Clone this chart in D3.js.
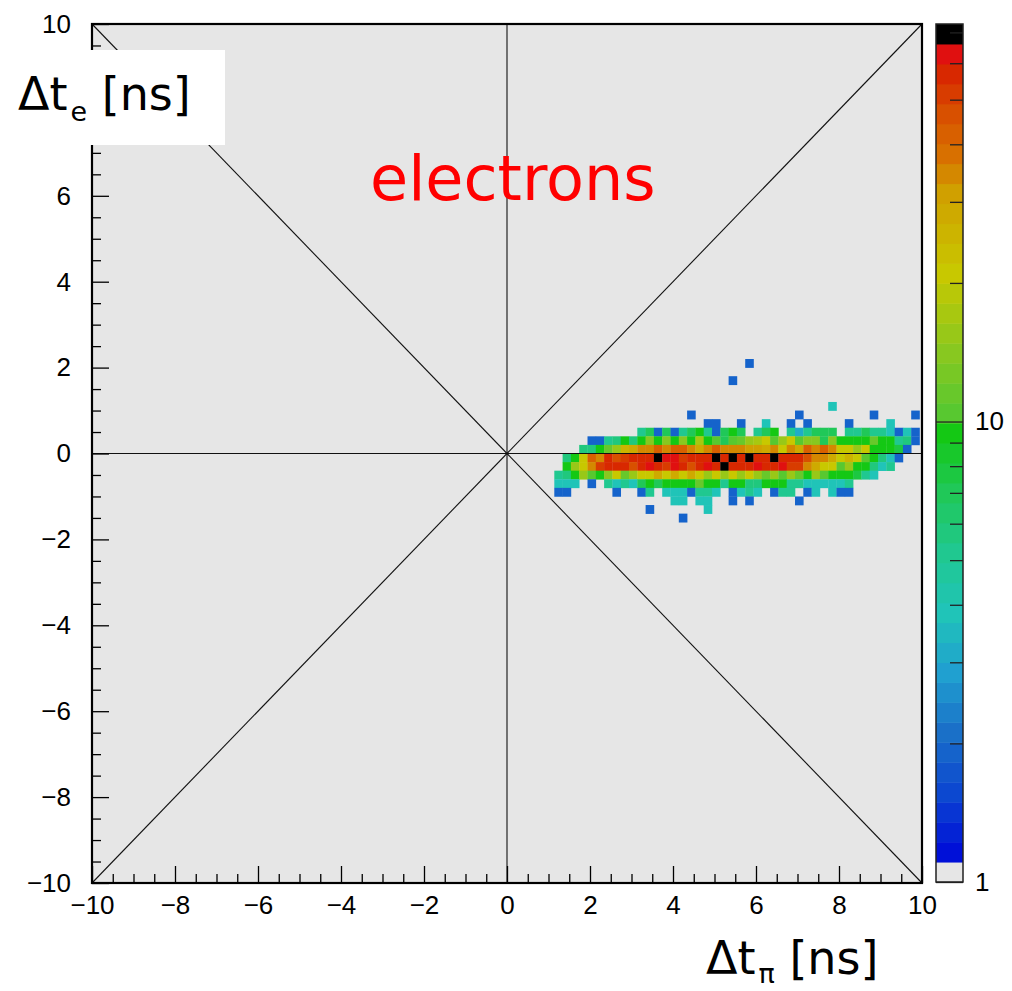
<!DOCTYPE html>
<html lang="en">
<head>
<meta charset="UTF-8">
<title>electrons</title>
<script src="https://d3js.org/d3.v7.min.js"></script>
<style>
  body { margin: 0; background: white; }
  svg { display: block; }
  .tick text { font-family: "Liberation Sans", Arial, sans-serif; font-size: 26px; fill: black; }
  .label { font-family: "DejaVu Sans", sans-serif; fill: black; }
</style>
</head>
<body>
<script>
  const W = 1012, H = 991;

  // 2D histogram, 0.2 x 0.2 bins. rowY = lower edge of each row,
  // each row has 44 columns starting at x = colStart
  const binW = 0.2;
  const colStart = 1.14;
  const rowY = [2.0, 1.6, 1.0, 0.8, 0.6, 0.4, 0.2, 0.0, -0.2, -0.4, -0.6, -0.8, -1.0, -1.2, -1.4, -1.6];
  const rowCounts = [
    [0,0,0,0,0,0,0,0,0,0, 0,0,0,0,0,0,0,0,0,0, 0,0,0,2,0,0,0,0,0,0, 0,0,0,0,0,0,0,0,0,0, 0,0,0,0],
    [0,0,0,0,0,0,0,0,0,0, 0,0,0,0,0,0,0,0,0,0, 0,2,0,0,0,0,0,0,0,0, 0,0,0,0,0,0,0,0,0,0, 0,0,0,0],
    [0,0,0,0,0,0,0,0,0,0, 0,0,0,0,0,0,0,0,0,0, 0,0,0,0,0,0,0,0,0,0, 0,0,0,4,0,0,0,0,0,0, 0,0,0,0],
    [0,0,0,0,0,0,0,0,0,0, 0,0,0,0,0,0,2,0,0,0, 0,0,0,0,0,0,0,0,0,2, 0,0,0,0,0,0,0,0,2,0, 0,0,0,2],
    [0,0,0,0,0,0,0,0,0,0, 0,0,0,0,0,0,0,0,2,2, 0,0,2,0,0,4,0,0,2,0, 2,0,0,0,0,2,0,0,0,0, 4,0,0,0],
    [0,0,0,0,0,0,0,0,0,0, 5,7,2,7,2,5,7,9,5,2, 7,9,7,0,5,7,9,0,5,3, 5,7,7,7,0,5,5,7,5,5, 4,2,4,2],
    [0,0,0,0,2,2,5,6,9,6, 9,14,9,14,9,14,9,18,9,10, 7,10,12,15,18,20,10,15,20,10, 14,14,7,14,9,9,9,9,12,9, 9,5,6,2],
    [0,0,0,6,6,9,12,15,25,27, 35,35,42,35,42,42,35,27,35,42, 35,35,35,30,30,27,35,22,35,27, 42,35,42,35,22,20,15,20,9,9, 9,8,2,0],
    [0,6,9,20,42,35,58,45,50,58, 58,58,70,62,62,50,58,58,58,70, 58,70,58,70,58,58,70,58,58,58, 45,35,35,27,20,25,20,10,9,6, 4,2,0,0],
    [0,9,15,22,35,50,55,58,55,45, 55,62,58,50,62,58,45,58,62,58, 70,58,58,55,62,58,58,62,50,50, 35,27,20,20,10,15,9,9,6,4, 5,0,0,0],
    [5,6,9,15,10,9,14,20,12,15, 20,20,27,20,27,20,27,20,15,20, 15,20,15,20,15,12,15,10,15,12, 9,15,10,9,9,9,8,5,4,0, 0,0,0,0],
    [4,4,4,0,2,0,5,4,5,4, 7,9,7,9,9,9,9,12,9,9, 5,9,9,6,6,9,9,9,5,5, 4,4,4,4,4,5,0,0,0,0, 0,0,0,0],
    [2,2,0,0,0,0,0,2,0,0, 2,5,0,4,4,4,2,5,5,4, 0,2,4,5,4,0,2,5,5,0, 2,4,0,4,2,2,0,0,0,0, 0,0,0,0],
    [0,0,0,0,0,0,0,0,0,0, 0,0,0,0,4,4,0,4,4,0, 0,2,0,2,0,0,0,0,0,2, 0,0,0,0,0,0,0,0,0,0, 0,0,0,0],
    [0,0,0,0,0,0,0,0,0,0, 0,2,0,0,0,0,0,0,4,0, 0,0,0,0,0,0,0,0,0,0, 0,0,0,0,0,0,0,0,0,0, 0,0,0,0],
    [0,0,0,0,0,0,0,0,0,0, 0,0,0,0,0,2,0,0,0,0, 0,0,0,0,0,0,0,0,0,0, 0,0,0,0,0,0,0,0,0,0, 0,0,0,0]
  ];

  const xTickValues = [-10, -8, -6, -4, -2, 0, 2, 4, 6, 8, 10];
  const yTickValues = [-10, -8, -6, -4, -2, 0, 2, 4, 6, 8, 10];
  const zTickValues = [1, 10];
  const zMinorValues = [2, 3, 4, 5, 6, 7, 8, 9, 20, 30, 40, 50, 60, 70];
  const zMax = 73;
  const nBands = 43;

  // colour palette: band index -> colour
  const paletteBands = [1, 4, 7, 10, 13, 16, 19, 22, 23, 26, 30, 34, 36, 38, 40, 41, 42];
  const paletteColors = ["#0010d8", "#0c48d0", "#1a70c8", "#20a0d0", "#20c4b8", "#20c890", "#20c858",
    "#14c814", "#58c830", "#88c820", "#c8c800", "#d0a000", "#d87000", "#d85000", "#d82800", "#e01010", "#000000"];
  const palette = d3.scaleLinear().domain(paletteBands).range(paletteColors).interpolate(d3.interpolateRgb);
  const bandColor = b => b <= 0 ? "#e6e6e6" : palette(Math.min(b, nBands - 1));
  const logMax = Math.log10(zMax);
  const bandOf = v => Math.min(nBands - 1, Math.floor(Math.log10(v) / logMax * nBands));

  const svg = d3.select("body").append("svg")
    .attr("width", W)
    .attr("height", H);

  const x = d3.scaleLinear().domain([-10, 10]).range([92, 922]);
  const y = d3.scaleLinear().domain([-10, 10]).range([883, 24]);

  svg.append("rect")
    .attr("x", x(-10)).attr("y", y(10))
    .attr("width", x(10) - x(-10)).attr("height", y(-10) - y(10))
    .attr("fill", "#e6e6e6");

  // histogram cells
  const cells = [];
  rowCounts.forEach((row, i) => {
    row.forEach((v, j) => {
      if (v > 0) cells.push({ x0: colStart + j * binW, y0: rowY[i], v: v });
    });
  });

  svg.append("g").selectAll("rect")
    .data(cells)
    .enter().append("rect")
    .attr("x", d => x(d.x0))
    .attr("y", d => y(d.y0 + binW))
    .attr("width", d => x(d.x0 + binW) - x(d.x0) + 0.3)
    .attr("height", d => y(d.y0) - y(d.y0 + binW) + 0.3)
    .attr("fill", d => bandColor(bandOf(d.v)));

  // guide lines
  const guides = [
    [[-10, -10], [10, 10]],
    [[-10, 10], [10, -10]],
    [[0, -10], [0, 10]],
    [[-10, 0], [10, 0]]
  ];
  svg.append("g").selectAll("line")
    .data(guides)
    .enter().append("line")
    .attr("x1", d => x(d[0][0])).attr("y1", d => y(d[0][1]))
    .attr("x2", d => x(d[1][0])).attr("y2", d => y(d[1][1]))
    .attr("stroke", "#111")
    .attr("stroke-width", 1.1);

  // axes, ticks pointing inside the frame
  const minor = d3.range(-10, 10.01, 0.5).filter(v => Math.abs(v % 2) > 0.01);

  svg.append("g")
    .attr("transform", `translate(0,${y(-10)})`)
    .call(d3.axisBottom(x).tickValues(xTickValues).tickSize(-17).tickPadding(13))
    .call(g => g.select(".domain").remove());
  svg.append("g")
    .attr("transform", `translate(0,${y(-10)})`)
    .call(d3.axisBottom(x).tickValues(minor).tickSize(-9).tickFormat(""))
    .call(g => g.select(".domain").remove());

  svg.append("g")
    .attr("transform", `translate(${x(-10)},0)`)
    .call(d3.axisLeft(y).tickValues(yTickValues).tickSize(-17).tickPadding(21))
    .call(g => g.select(".domain").remove());
  svg.append("g")
    .attr("transform", `translate(${x(-10)},0)`)
    .call(d3.axisLeft(y).tickValues(minor).tickSize(-9).tickFormat(""))
    .call(g => g.select(".domain").remove());

  svg.selectAll(".tick line").attr("stroke", "#000").attr("stroke-width", 1.3);

  svg.append("rect")
    .attr("x", x(-10)).attr("y", y(10))
    .attr("width", x(10) - x(-10)).attr("height", y(-10) - y(10))
    .attr("fill", "none")
    .attr("stroke", "#000")
    .attr("stroke-width", 2.2);

  // colour bar
  const cbX = 936, cbW = 27;
  const z = d3.scaleLog().domain([1, zMax]).range([882, 24]);
  const bands = d3.range(nBands);
  svg.append("g").selectAll("rect")
    .data(bands)
    .enter().append("rect")
    .attr("x", cbX)
    .attr("y", b => z(Math.pow(10, (b + 1) * logMax / nBands)))
    .attr("width", cbW)
    .attr("height", b => z(Math.pow(10, b * logMax / nBands)) - z(Math.pow(10, (b + 1) * logMax / nBands)) + 0.5)
    .attr("fill", b => bandColor(b));

  svg.append("g")
    .attr("transform", `translate(${cbX + cbW},0)`)
    .call(d3.axisRight(z).tickValues(zTickValues).tickSize(-cbW).tickPadding(12).tickFormat(d3.format("d")))
    .call(g => g.select(".domain").remove())
    .call(g => g.selectAll("line").attr("stroke", "#222").attr("stroke-width", 1.3));
  svg.append("g")
    .attr("transform", `translate(${cbX + cbW},0)`)
    .call(d3.axisRight(z).tickValues(zMinorValues).tickSize(-13).tickFormat(""))
    .call(g => g.select(".domain").remove())
    .call(g => g.selectAll("line").attr("stroke", "#222").attr("stroke-width", 1.3));

  svg.append("rect")
    .attr("x", cbX).attr("y", z(zMax))
    .attr("width", cbW).attr("height", z(1) - z(zMax))
    .attr("fill", "none")
    .attr("stroke", "#222")
    .attr("stroke-width", 1.5);

  // texts
  svg.append("text")
    .attr("class", "label")
    .attr("x", 370).attr("y", 200)
    .attr("font-size", 62)
    .style("fill", "#ff0000")
    .text("electrons");

  svg.append("rect")
    .attr("x", 0).attr("y", 50)
    .attr("width", 225).attr("height", 95)
    .attr("fill", "white");

  const yLab = svg.append("text")
    .attr("class", "label")
    .attr("x", 18).attr("y", 110)
    .attr("font-size", 46);
  yLab.append("tspan").text("Δt");
  yLab.append("tspan").attr("font-size", 27).attr("dx", 3).attr("dy", 11).text("e");
  yLab.append("tspan").attr("dy", -11).text(" [ns]");

  const xLab = svg.append("text")
    .attr("class", "label")
    .attr("x", 706).attr("y", 974)
    .attr("font-size", 46);
  xLab.append("tspan").text("Δt");
  xLab.append("tspan").attr("font-size", 27).attr("dx", 3).attr("dy", 9).text("π");
  xLab.append("tspan").attr("dy", -9).text(" [ns]");
</script>
</body>
</html>
